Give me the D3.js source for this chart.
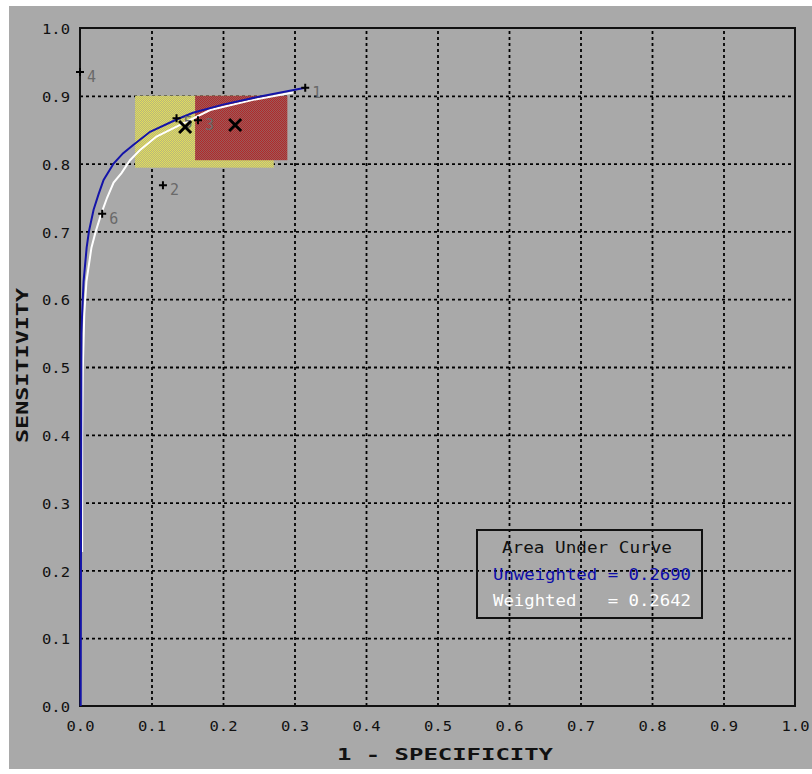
<!DOCTYPE html>
<html>
<head>
<meta charset="utf-8">
<script src="https://cdn.jsdelivr.net/npm/d3@7"></script>
<style>
body { margin: 0; background: #fff; }
svg text { font-family: "DejaVu Sans Mono", monospace; }
</style>
</head>
<body>
<div id="chart"></div>
<script>
var width = 812,
    height = 774,
    margin = {top: 28, right: 17, bottom: 68, left: 80}
;

// Data
var tickValues = [0, 0.1, 0.2, 0.3, 0.4, 0.5, 0.6, 0.7, 0.8, 0.9, 1.0];

var unweightedX = [0.001, 0.0015, 0.002, 0.003, 0.005, 0.0093, 0.0125, 0.019, 0.026, 0.033, 0.047, 0.06, 0.074, 0.098, 0.135, 0.158, 0.2, 0.252, 0.315];
var unweightedY = [0, 0.30, 0.55, 0.58, 0.626, 0.676, 0.70, 0.732, 0.755, 0.776, 0.80, 0.815, 0.827, 0.847, 0.865, 0.875, 0.887, 0.899, 0.912];

var weightedX = [0.003, 0.003, 0.004, 0.006, 0.009, 0.016, 0.022, 0.03, 0.038, 0.047, 0.058, 0.07, 0.084, 0.107, 0.14, 0.182, 0.242, 0.298];
var weightedY = [0.227, 0.40, 0.50, 0.578, 0.626, 0.676, 0.70, 0.727, 0.75, 0.772, 0.786, 0.805, 0.82, 0.84, 0.857, 0.879, 0.894, 0.905];

var pointLabels = ['1', '2', '3', '4', '5', '6'];
var pointX = [0.315, 0.116, 0.165, 0.0, 0.135, 0.031];
var pointY = [0.912, 0.768, 0.864, 0.935, 0.867, 0.726];

var crossX = [0.147, 0.217];
var crossY = [0.854, 0.857];

// confidence boxes: [x0, x1, y0, y1]
var yellowBox = [0.077, 0.271, 0.794, 0.9];
var redBox = [0.161, 0.29, 0.805, 0.9];

var aucTitle = 'Area Under Curve',
    aucUnweighted = 'Unweighted = 0.2690',
    aucWeighted = 'Weighted   = 0.2642';

var svg = d3.select('#chart')
    .append('svg')
    .attr('width', width)
    .attr('height', height)
;

// grey panel
svg.append('rect')
    .attr('x', 9).attr('y', 6)
    .attr('width', width - 9).attr('height', height - 6 - 5)
    .attr('fill', '#a9a9a9');

var defs = svg.append('defs');
function checker(id, c1, c2) {
    var p = defs.append('pattern')
        .attr('id', id)
        .attr('width', 2).attr('height', 2)
        .attr('patternUnits', 'userSpaceOnUse');
    p.append('rect').attr('width', 2).attr('height', 2).attr('fill', c2);
    p.append('rect').attr('width', 1).attr('height', 1).attr('fill', c1);
    p.append('rect').attr('x', 1).attr('y', 1).attr('width', 1).attr('height', 1).attr('fill', c1);
}
checker('yellowDots', '#e2de5c', '#b8b67c');
checker('redDots', '#b02a2a', '#9c5a5a');

var w = width - margin.left - margin.right,
    h = height - margin.top - margin.bottom;

var graph = svg.append('g')
    .attr('transform', 'translate(' + margin.left + ',' + margin.top + ')');

var x = d3.scaleLinear().domain([0, 1]).range([0, w]),
    y = d3.scaleLinear().domain([0, 1]).range([h, 0]);

// Grid
var inner = tickValues.slice(1, -1);
graph.append('g')
    .attr('class', 'grid grid--x')
    .attr('transform', 'translate(0,' + h + ')')
    .call(d3.axisBottom(x).tickValues(inner).tickSize(-h).tickFormat(''))
    .call(function(g) { g.select('.domain').remove(); });
graph.append('g')
    .attr('class', 'grid grid--y')
    .call(d3.axisLeft(y).tickValues(inner).tickSize(-w).tickFormat(''))
    .call(function(g) { g.select('.domain').remove(); });
graph.selectAll('.grid line')
    .attr('stroke', '#000')
    .attr('stroke-width', 1.8)
    .attr('stroke-dasharray', '3,3');

// Boxes
function drawBox(b, fill) {
    graph.append('rect')
        .attr('x', x(b[0]))
        .attr('y', y(b[3]))
        .attr('width', x(b[1]) - x(b[0]))
        .attr('height', y(b[2]) - y(b[3]))
        .attr('fill', fill);
}
drawBox(yellowBox, 'url(#yellowDots)');
drawBox(redBox, 'url(#redDots)');

// Frame
graph.append('rect')
    .attr('x', 0).attr('y', 0)
    .attr('width', w).attr('height', h)
    .attr('fill', 'none')
    .attr('stroke', '#111')
    .attr('stroke-width', 2);

// Axis labels
var xAxis = graph.append('g')
    .attr('class', 'axis axis--x')
    .attr('transform', 'translate(0,' + h + ')')
    .call(d3.axisBottom(x).tickValues(tickValues).tickSize(0).tickPadding(15).tickFormat(d3.format('.1f')));
var yAxis = graph.append('g')
    .attr('class', 'axis axis--y')
    .call(d3.axisLeft(y).tickValues(tickValues).tickSize(0).tickPadding(10).tickFormat(d3.format('.1f')));
graph.selectAll('.axis .domain').remove();
graph.selectAll('.axis text')
    .attr('font-family', '"DejaVu Sans Mono", monospace')
    .attr('font-size', 14)
    .attr('fill', '#111')
    .attr('textLength', 28)
    .attr('lengthAdjust', 'spacingAndGlyphs');
yAxis.selectAll('text').attr('dy', '0.4em');

// Curves
var line = d3.line()
    .x(function(d) { return x(d[0]); })
    .y(function(d) { return y(d[1]); });

var weighted = weightedX.map(function(v, i) { return [v, weightedY[i]]; });
var unweighted = unweightedX.map(function(v, i) { return [v, unweightedY[i]]; });

graph.append('path')
    .datum(weighted)
    .attr('d', line)
    .attr('fill', 'none')
    .attr('stroke', '#ffffff')
    .attr('stroke-width', 2);
graph.append('path')
    .datum(unweighted)
    .attr('d', line)
    .attr('fill', 'none')
    .attr('stroke', '#1414a8')
    .attr('stroke-width', 2);

// Points
var pts = graph.selectAll('.pt')
    .data(pointLabels)
    .enter()
    .append('g')
    .attr('class', 'pt')
    .attr('transform', function(d, i) {
        return 'translate(' + x(pointX[i]) + ',' + y(pointY[i]) + ')';
    });
pts.append('path')
    .attr('d', 'M-4,0H4M0,-4V4')
    .attr('stroke', '#000')
    .attr('stroke-width', 2);
pts.append('text')
    .attr('x', 7)
    .attr('y', 10)
    .attr('font-size', 15)
    .attr('fill', '#6a6a6a')
    .text(function(d) { return d; });

// Crosses
graph.selectAll('.cross')
    .data(crossX)
    .enter()
    .append('path')
    .attr('class', 'cross')
    .attr('transform', function(d, i) {
        return 'translate(' + x(d) + ',' + y(crossY[i]) + ')';
    })
    .attr('d', 'M-6,-6L6,6M6,-6L-6,6')
    .attr('stroke', '#000')
    .attr('stroke-width', 3);

// Axis titles
svg.append('text')
    .attr('x', 337).attr('y', 760)
    .attr('font-size', 16)
    .attr('font-weight', 'bold')
    .attr('fill', '#111')
    .attr('textLength', 216)
    .attr('lengthAdjust', 'spacingAndGlyphs')
    .text('1 - SPECIFICITY');
svg.append('text')
    .attr('transform', 'translate(28,443) rotate(-90)')
    .attr('font-size', 16)
    .attr('font-weight', 'bold')
    .attr('fill', '#111')
    .attr('textLength', 155)
    .attr('lengthAdjust', 'spacingAndGlyphs')
    .text('SENSITIVITY');

// Legend
var legend = svg.append('g').attr('class', 'legend');
legend.append('rect')
    .attr('x', 477).attr('y', 530)
    .attr('width', 225).attr('height', 88)
    .attr('fill', 'none')
    .attr('stroke', '#111')
    .attr('stroke-width', 2);
legend.append('text')
    .attr('x', 502).attr('y', 553)
    .attr('font-size', 15)
    .attr('fill', '#111')
    .attr('textLength', 170)
    .attr('lengthAdjust', 'spacingAndGlyphs')
    .style('white-space', 'pre')
    .text(aucTitle);
legend.append('text')
    .attr('x', 493).attr('y', 580)
    .attr('font-size', 15)
    .attr('fill', '#0c0ca8')
    .attr('textLength', 198)
    .attr('lengthAdjust', 'spacingAndGlyphs')
    .style('white-space', 'pre')
    .text(aucUnweighted);
legend.append('text')
    .attr('x', 493).attr('y', 606)
    .attr('font-size', 15)
    .attr('fill', '#ffffff')
    .attr('textLength', 198)
    .attr('lengthAdjust', 'spacingAndGlyphs')
    .style('white-space', 'pre')
    .text(aucWeighted);
</script>
</body>
</html>
